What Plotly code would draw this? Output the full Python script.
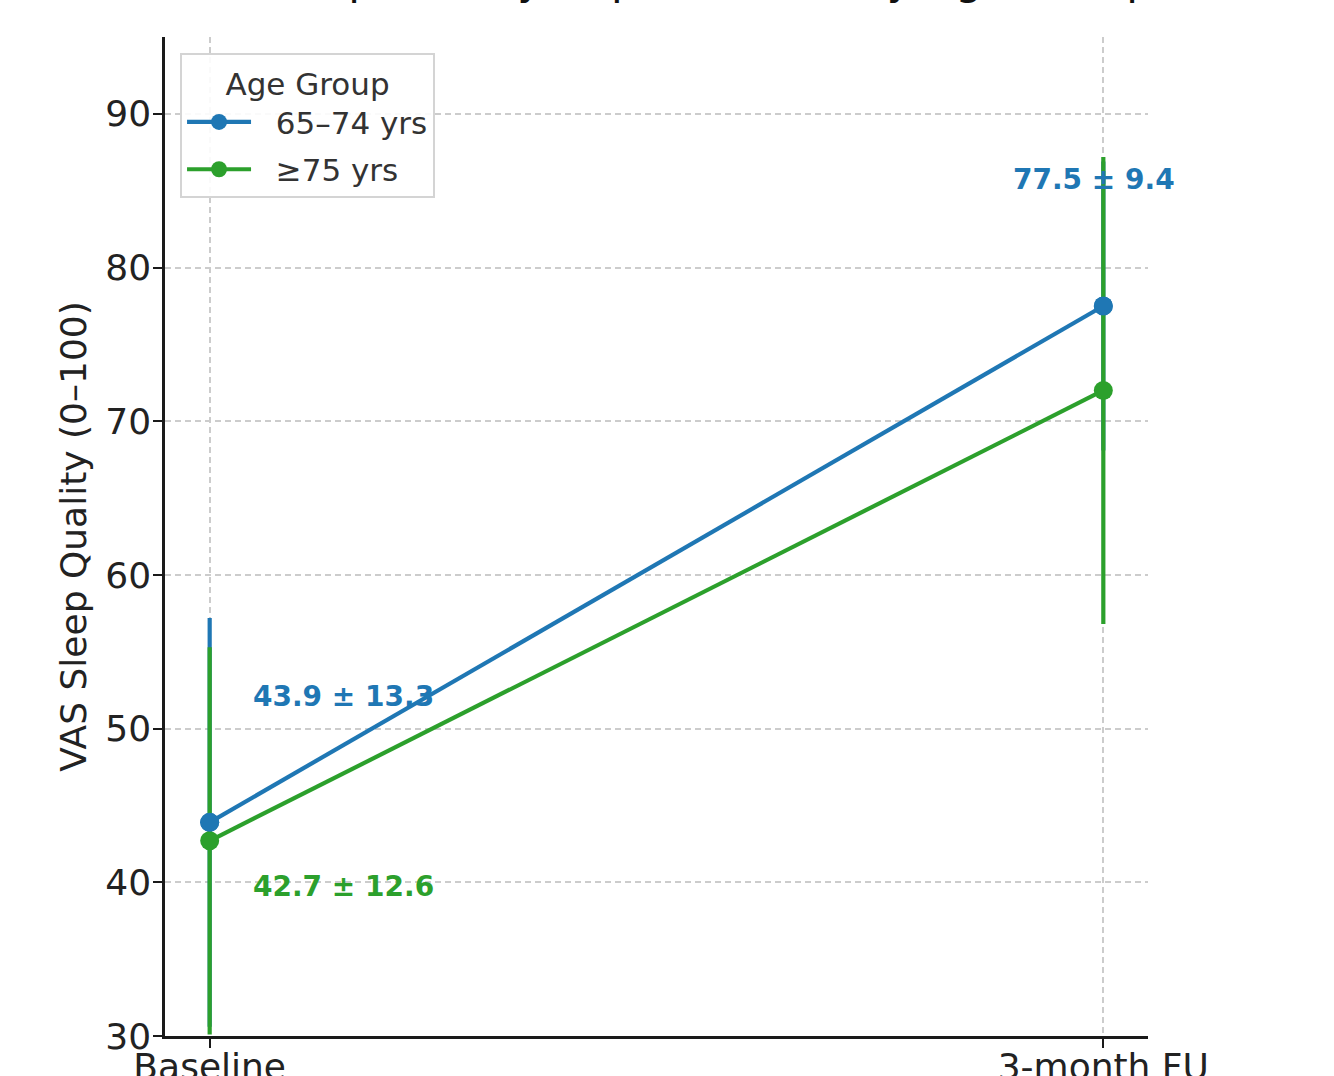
import plotly.graph_objects as go

# ---- data ----
timepoints = ["Baseline", "3-month FU"]
groups = ["65–74 yrs", "≥75 yrs"]
means_65_74 = [43.9, 77.5]
sd_65_74 = [13.3, 9.4]
means_75p = [42.7, 72.0]
sd_75p = [12.6, 15.2]
y_ticks = [30, 40, 50, 60, 70, 80, 90]
title_text = "VAS Sleep Quality Improvement by Age Group"

# label offsets (dx in category units, dy in value units)
label_off_65_74 = [(0.15, 8.2), (-0.01, 8.2)]
label_off_75p = [(0.15, -3.0), (0.15, -2.8)]

BLUE = "#1f77b4"
GREEN = "#2ca02c"
FONT = "DejaVu Sans"
PAD = "\u00a0\u00a0"

fig = go.Figure()

def add_series(name, means, sds, color, group, markers_only=False):
    if markers_only:
        fig.add_trace(go.Scatter(
            x=timepoints, y=means, mode="markers", name=name,
            marker=dict(color=color, size=19), showlegend=False, hoverinfo="skip",
            cliponaxis=False,
        ))
        return
    fig.add_trace(go.Scatter(
        x=timepoints, y=means, mode="lines+markers", name=PAD + name,
        line=dict(color=color, width=4.2),
        marker=dict(color=color, size=19),
        error_y=dict(type="data", array=sds, visible=True, color=color,
                     thickness=4.2, width=0),
        legendgroup=group, cliponaxis=False,
    ))

add_series(groups[0], means_65_74, sd_65_74, BLUE, "g1")
add_series(groups[1], means_75p, sd_75p, GREEN, "g2")
add_series(groups[0], means_65_74, sd_65_74, BLUE, "g1", markers_only=True)

annotations = []
for means, sds, offs, color in [
    (means_65_74, sd_65_74, label_off_65_74, BLUE),
    (means_75p, sd_75p, label_off_75p, GREEN),
]:
    for i, (m, s) in enumerate(zip(means, sds)):
        dx, dy = offs[i]
        annotations.append(dict(
            x=i + dx, y=m + dy, xref="x", yref="y",
            text=f"<b>{m:.1f} ± {s:.1f}</b>", showarrow=False,
            font=dict(family=FONT, size=28, color=color),
            xanchor="center", yanchor="middle",
        ))

# title (mostly above the visible page, as in the reference)
annotations.append(dict(
    x=0.5, y=1, xref="paper", yref="paper", xanchor="center", yanchor="bottom",
    yshift=31, text=title_text, showarrow=False,
    font=dict(family=FONT, size=43, color="#111111"),
))

fig.update_layout(
    width=1334, height=1076,
    margin=dict(l=165, r=186, t=37, b=40, autoexpand=False),
    paper_bgcolor="white", plot_bgcolor="white",
    font=dict(family=FONT, size=36, color="#222222"),
    showlegend=True,
    legend=dict(
        title=dict(text="Age Group", font=dict(family=FONT, size=31, color="#333333"), side="top center"),
        font=dict(family=FONT, size=31, color="#333333"),
        x=0.0153, y=0.984, xanchor="left", yanchor="top",
        bgcolor="rgba(255,255,255,0.9)", bordercolor="#d4d4d4", borderwidth=2,
        itemwidth=64, tracegroupgap=4,
    ),
    annotations=annotations,
)

fig.update_xaxes(
    type="category", range=[-0.05, 1.05],
    showline=True, linecolor="#1a1a1a", linewidth=2.5, mirror=False,
    ticks="outside", ticklen=9, tickwidth=2, tickcolor="#1a1a1a",
    showgrid=True, gridcolor="#cccccc", griddash="6px,4px", gridwidth=1.5,
    tickfont=dict(family=FONT, size=36, color="#222222"),
    ticklabelstandoff=-12,
    zeroline=False,
)
fig.update_yaxes(
    range=[30, 95], tickvals=y_ticks,
    showline=True, linecolor="#1a1a1a", linewidth=2.5, mirror=False,
    ticks="outside", ticklen=9, tickwidth=2, tickcolor="#1a1a1a",
    showgrid=True, gridcolor="#cccccc", griddash="6px,4px", gridwidth=1.5,
    tickfont=dict(family=FONT, size=36, color="#222222"),
    ticklabelstandoff=-5,
    title=dict(text="VAS Sleep Quality (0–100)", font=dict(family=FONT, size=36, color="#222222"), standoff=8),
    zeroline=False,
)

fig.write_html("out.html", config={"displayModeBar": False},
               post_script="document.body.style.margin='0';")
